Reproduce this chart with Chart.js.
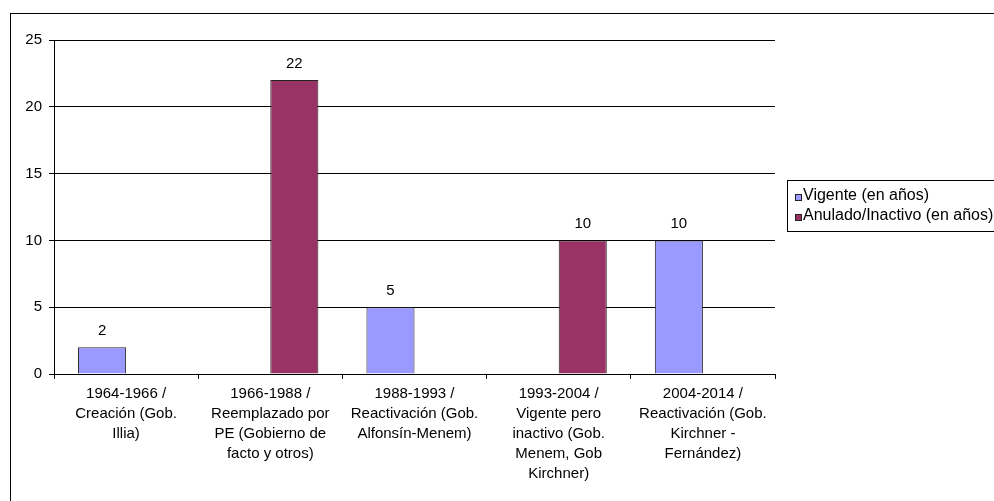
<!DOCTYPE html>
<html>
<head>
<meta charset="utf-8">
<script src="https://cdn.jsdelivr.net/npm/chart.js@4/dist/chart.umd.min.js"></script>
<style>
  html, body { margin: 0; padding: 0; background: #fff; }
  #wrap { position: relative; width: 994px; height: 501px; }
</style>
</head>
<body>
<div id="wrap"><canvas id="c" width="994" height="501"></canvas></div>
<script>
// periodi (etichette asse X, su più righe)
var categories = [
  ["1964-1966 /", "Creación (Gob.", "Illia)"],
  ["1966-1988 /", "Reemplazado por", "PE (Gobierno de", "facto y otros)"],
  ["1988-1993 /", "Reactivación (Gob.", "Alfonsín-Menem)"],
  ["1993-2004 /", "Vigente pero", "inactivo (Gob.", "Menem, Gob", "Kirchner)"],
  ["2004-2014 /", "Reactivación (Gob.", "Kirchner -", "Fernández)"]
];
var vigente = [2, null, 5, null, 10];
var anulado = [null, 22, null, 10, null];
var seriesNames = ["Vigente (en años)", "Anulado/Inactivo (en años)"];
var yTicks = [0, 5, 10, 15, 20, 25];

var FONT = "Liberation Sans, Arial, sans-serif";

// cornice esterna + etichette valore + legenda con bordo
var decor = {
  id: "decor",
  beforeDraw: function (chart) {
    var ctx = chart.ctx;
    ctx.save();
    ctx.strokeStyle = "#000";
    ctx.lineWidth = 1;
    ctx.strokeRect(10.5, 13.5, 1200, 800);
    ctx.restore();
  },
  afterDatasetsDraw: function (chart) {
    var ctx = chart.ctx;
    ctx.save();
    ctx.font = "15px " + FONT;
    ctx.fillStyle = "#000";
    ctx.textAlign = "center";
    ctx.textBaseline = "alphabetic";
    chart.data.datasets.forEach(function (ds, di) {
      chart.getDatasetMeta(di).data.forEach(function (bar, i) {
        var v = ds.data[i];
        if (v == null) return;
        ctx.fillText(String(v), bar.x, bar.y - 12);
      });
    });
    // legenda
    ctx.strokeStyle = "#000";
    ctx.lineWidth = 1;
    ctx.strokeRect(787.5, 180.5, 400, 51);
    ctx.font = "16px " + FONT;
    ctx.textAlign = "left";
    ctx.textBaseline = "middle";
    chart.data.datasets.forEach(function (ds, di) {
      var y = 196 + di * 20;
      ctx.fillStyle = ds.backgroundColor;
      ctx.fillRect(795, y - 2, 7, 7);
      ctx.strokeStyle = "#222";
      ctx.strokeRect(795.5, y - 1.5, 6, 6);
      ctx.fillStyle = "#000";
      ctx.fillText(ds.label, 803, y);
    });
    ctx.restore();
  }
};

new Chart(document.getElementById("c"), {
  type: "bar",
  data: {
    labels: categories,
    datasets: [
      { label: seriesNames[0], data: vigente, backgroundColor: "#9999FF", borderColor: "#222", borderWidth: 1,
        categoryPercentage: 2 / 3, barPercentage: 1 },
      { label: seriesNames[1], data: anulado, backgroundColor: "#993366", borderColor: "#222", borderWidth: 1,
        categoryPercentage: 2 / 3, barPercentage: 1 }
    ]
  },
  options: {
    responsive: false,
    animation: false,
    events: [],
    layout: { padding: { top: 40, right: 219, left: 0, bottom: 0 } },
    plugins: { legend: { display: false }, tooltip: { enabled: false } },
    scales: {
      x: {
        grid: { drawOnChartArea: false, color: "#000", tickLength: 5, offset: true },
        border: { color: "#000" },
        ticks: { color: "#000", font: { family: FONT, size: 15, lineHeight: 20 / 15 }, padding: 5, maxRotation: 0, autoSkip: false },
        afterFit: function (s) { s.height = 127; }
      },
      y: {
        min: 0,
        max: 25,
        afterBuildTicks: function (s) { s.ticks = yTicks.map(function (v) { return { value: v }; }); },
        grid: { color: "#000", tickLength: 5 },
        border: { color: "#000" },
        ticks: { color: "#000", font: { family: FONT, size: 15 }, padding: 7 },
        afterFit: function (s) { s.width = 54; }
      }
    }
  },
  plugins: [decor]
});
</script>
</body>
</html>
